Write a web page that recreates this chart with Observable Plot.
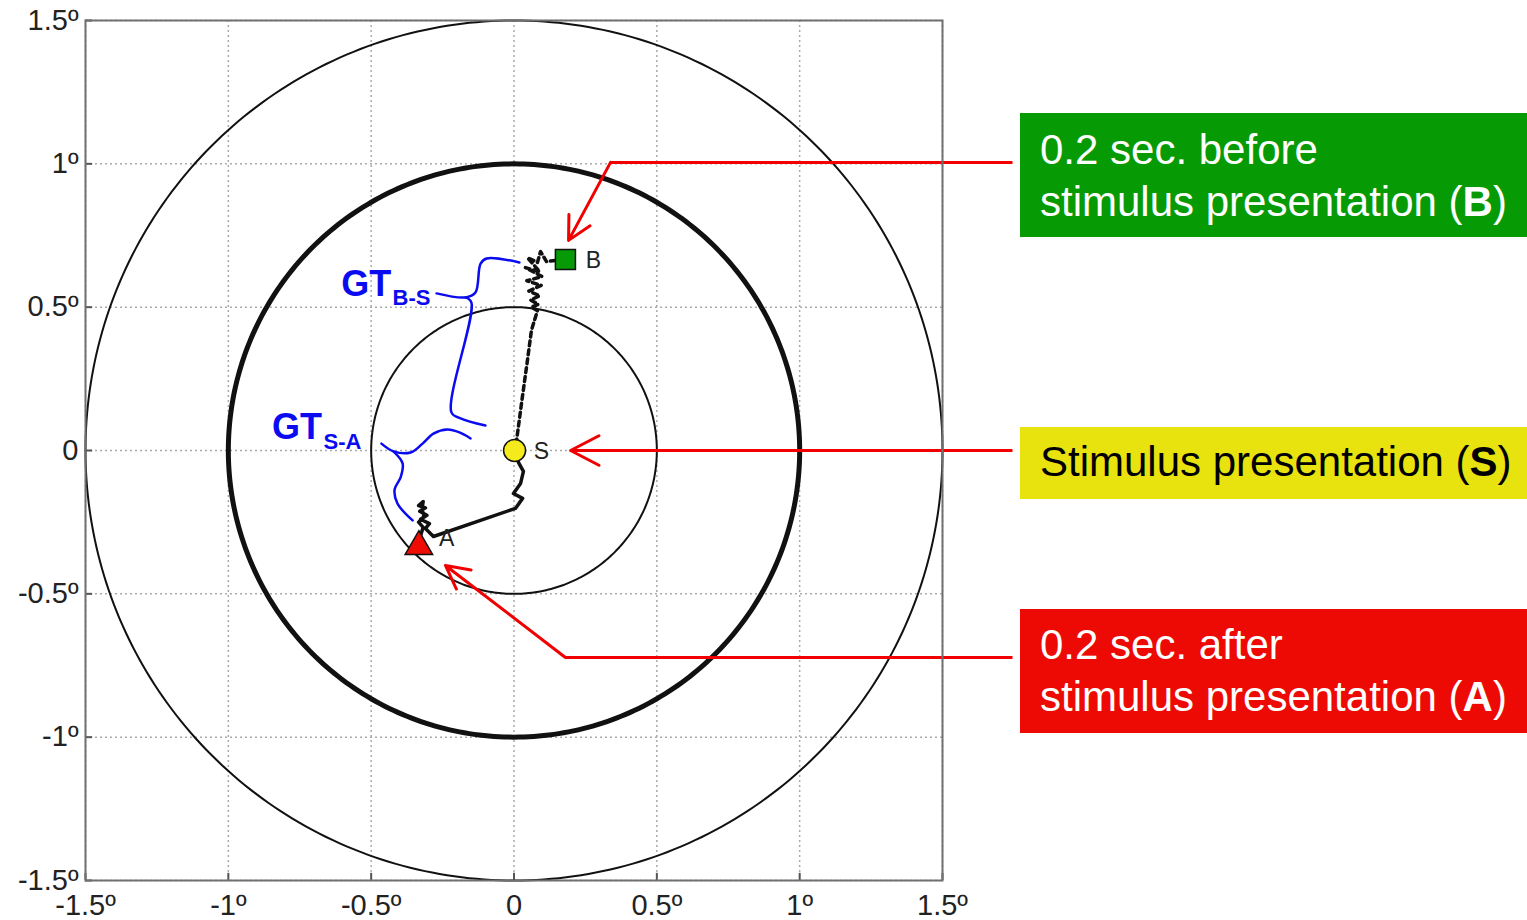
<!DOCTYPE html>
<html><head><meta charset="utf-8">
<script src="https://cdn.jsdelivr.net/npm/d3@7"></script>
<script src="https://cdn.jsdelivr.net/npm/@observablehq/plot@0.6"></script>
<style>
body{margin:0;background:#fff;font-family:"Liberation Sans",Arial,sans-serif;}
#wrap{position:relative;width:1527px;height:920px;overflow:hidden}
#wrap svg{position:absolute;left:0;top:0}
.box{position:absolute;left:1020px;width:507px;box-sizing:border-box;padding-left:20px;font-size:42px;line-height:52px;white-space:nowrap}
</style></head>
<body><div id="wrap"></div>
<script>
// ---- axis ticks ----
const tickValues = [-1.5, -1, -0.5, 0, 0.5, 1, 1.5];
const tickLabel = d => d === 0 ? "0" : `${d}º`;

// ---- reference circles (radius in degrees) ----
const circleRadii = [0.5, 1, 1.5];
const circleWidths = [2, 5, 2];

// ---- event markers ----
const markerNames = ["B", "S", "A"];
const markerX = [0.180, 0.002, -0.333];
const markerY = [0.666, 0.000, -0.335];
const markerSymbols = ["square", "circle", "triangle"];
const markerFills = ["#079a07", "#f4ea1c", "#ee0c04"];
const markerSizes = [11.3, 11, 10.2];
const labelX = [0.278, 0.096, -0.236];
const labelY = [0.663, -0.003, -0.307];

// ---- gaze trace before stimulus (B -> S), dotted ----
const traceBX = [0.145, 0.114, 0.093, 0.082, 0.047, 0.090, 0.040, 0.098, 0.045, 0.095, 0.052, 0.090, 0.058, 0.085, 0.061, 0.082, 0.061, 0.047, 0.030, 0.009, 0.000];
const traceBY = [0.663, 0.659, 0.694, 0.656, 0.673, 0.624, 0.638, 0.607, 0.592, 0.576, 0.556, 0.540, 0.525, 0.510, 0.500, 0.488, 0.419, 0.314, 0.192, 0.035, 0.000];

// ---- gaze trace after stimulus (S -> A), solid ----
const traceAX = [0.000, 0.016, 0.033, 0.023, -0.002, 0.030, 0.005, -0.282, -0.310, -0.296, -0.327, -0.305, -0.330, -0.310, -0.334, -0.318, -0.322, -0.315, -0.334, -0.318, -0.327, -0.334];
const traceAY = [0.000, -0.042, -0.073, -0.115, -0.150, -0.167, -0.202, -0.300, -0.272, -0.255, -0.240, -0.226, -0.212, -0.200, -0.192, -0.178, -0.205, -0.230, -0.250, -0.268, -0.297, -0.317];

// ---- blue braces (GT annotations) ----
const braceIds = ["BS1","BS1","BS1","BS1","BS1","BS1","BS2","BS2","BS2","BS2","BS2",
                  "SA1","SA1","SA1","SA1","SA1","SA1","SA1","SA1","SA2","SA2","SA2","SA2","SA2","SA2"];
const braceX = [0.019, -0.096, -0.117, -0.135, -0.170, -0.271, -0.170, -0.149, -0.219, -0.187, -0.100,
                -0.464, -0.422, -0.362, -0.320, -0.282, -0.233, -0.191, -0.152, -0.422, -0.390, -0.397, -0.418, -0.408, -0.355];
const braceY = [0.656, 0.670, 0.652, 0.551, 0.534, 0.548, 0.534, 0.516, 0.133, 0.112, 0.087,
                0.024, -0.003, -0.007, 0.024, 0.059, 0.073, 0.063, 0.042, -0.003, -0.045, -0.094, -0.136, -0.185, -0.244];
const gtMain = ["GT", "GT"];
const gtSub = ["B-S", "S-A"];
const gtMainX = [-0.430, -0.672];
const gtMainY = [0.579, 0.080];
const gtSubX = [-0.425, -0.667];
const gtSubY = [0.531, 0.029];

// ---- red callout arrows (horizontal leader + arrow) ----
const calloutNames = ["B", "S", "A"];
const leaderX1 = [1.745, 1.745, 1.745];
const leaderY1 = [1.005, 0.000, -0.722];
const leaderX2 = [0.338, 1.000, 0.180];
const leaderY2 = [1.005, 0.000, -0.722];
const arrowX1 = [0.338, 1.000, 0.180];
const arrowY1 = [1.005, 0.000, -0.722];
const arrowX2 = [0.191, 0.198, -0.240];
const arrowY2 = [0.733, 0.000, -0.401];
const arrowHeads = [13, 16, 13];

// ---- callout boxes ----
const boxTexts = [
  ["0.2 sec. before", "stimulus presentation (<b>B</b>)"],
  ["Stimulus presentation (<b>S</b>)"],
  ["0.2 sec. after", "stimulus presentation (<b>A</b>)"]
];
const boxColors = ["#069a05", "#e8e20e", "#ee0a04"];
const boxTextColors = ["#ffffff", "#000000", "#ffffff"];
const boxTops = [113, 427, 609];
const boxHeights = [124, 72, 124];
const boxPads = [11, 9, 10];

// ---- build tables ----
const circles = circleRadii.map(r => d3.range(0, 361, 1).map(a => ({r, x: r * Math.cos(a * Math.PI / 180), y: r * Math.sin(a * Math.PI / 180)})));
const markers = markerNames.map((n, i) => ({n, x: markerX[i], y: markerY[i], s: markerSymbols[i], f: markerFills[i], r: markerSizes[i], lx: labelX[i], ly: labelY[i]}));
const traceB = traceBX.map((x, i) => ({x, y: traceBY[i]}));
const traceA = traceAX.map((x, i) => ({x, y: traceAY[i]}));
const braces = braceX.map((x, i) => ({id: braceIds[i], x, y: braceY[i]}));
const gts = gtMain.map((t, i) => ({t, s: gtSub[i], mx: gtMainX[i], my: gtMainY[i], sx: gtSubX[i], sy: gtSubY[i]}));
const callouts = calloutNames.map((n, i) => ({n, lx1: leaderX1[i], ly1: leaderY1[i], lx2: leaderX2[i], ly2: leaderY2[i],
  ax1: arrowX1[i], ay1: arrowY1[i], ax2: arrowX2[i], ay2: arrowY2[i], h: arrowHeads[i]}));

const font = "Liberation Sans, Arial, sans-serif";
const chart = Plot.plot({
  width: 1527, height: 920,
  marginLeft: 85, marginRight: 585, marginTop: 20, marginBottom: 40,
  style: {fontFamily: font, fontSize: "29px", color: "#222", background: "transparent", overflow: "visible"},
  x: {domain: [-1.5, 1.5]},
  y: {domain: [-1.5, 1.5]},
  marks: [
    Plot.gridX(tickValues, {stroke: "#aaaaaa", strokeOpacity: 1, strokeDasharray: "2,3", strokeWidth: 1.5}),
    Plot.gridY(tickValues, {stroke: "#aaaaaa", strokeOpacity: 1, strokeDasharray: "2,3", strokeWidth: 1.5}),
    Plot.ruleX(tickValues, {x: d => d, y1: -1.5, y2: -1.475, stroke: "#555", strokeWidth: 2}),
    Plot.ruleY(tickValues, {y: d => d, x1: -1.5, x2: -1.475, stroke: "#555", strokeWidth: 2}),
    ...circles.map((c, i) => Plot.line(c, {x: "x", y: "y", stroke: "#111", strokeWidth: circleWidths[i]})),
    Plot.axisX(tickValues, {tickFormat: tickLabel, tickSize: 0, tickPadding: 14, fontSize: 29, fill: "#222"}),
    Plot.axisY(tickValues, {tickFormat: tickLabel, tickSize: 0, tickPadding: 7, fontSize: 29, fill: "#222"}),
    Plot.line(braces, {x: "x", y: "y", z: "id", stroke: "#0b0bf0", strokeWidth: 2.5, curve: "catmull-rom"}),
    Plot.text(gts, {x: "mx", y: "my", text: "t", textAnchor: "end", fontSize: 36, fontWeight: "bold", fill: "#0b0bf0"}),
    Plot.text(gts, {x: "sx", y: "sy", text: "s", textAnchor: "start", fontSize: 22, fontWeight: "bold", fill: "#0b0bf0"}),
    Plot.line(traceB, {x: "x", y: "y", stroke: "#111", strokeWidth: 3.5, strokeDasharray: "5,4"}),
    Plot.line(traceA, {x: "x", y: "y", stroke: "#111", strokeWidth: 3.5, strokeLinejoin: "round"}),
    Plot.dot(markers, {x: "x", y: "y", symbol: "s", fill: "f", r: "r", stroke: "#111", strokeWidth: 1.5}),
    Plot.text(markers, {x: "lx", y: "ly", text: "n", fontSize: 23, fill: "#222"}),
    Plot.link(callouts, {x1: "lx1", y1: "ly1", x2: "lx2", y2: "ly2", stroke: "#f20000", strokeWidth: 3}),
    ...callouts.map(c => Plot.arrow([c], {x1: "ax1", y1: "ay1", x2: "ax2", y2: "ay2", stroke: "#f20000", strokeWidth: 3, headLength: c.h, headAngle: 55})),
    Plot.frame({stroke: "#707070", strokeWidth: 2})
  ],
  r: {type: "identity"},
  symbol: {type: "identity"},
  color: {type: "identity"}
});

const wrap = document.getElementById("wrap");
wrap.appendChild(chart);
boxTexts.forEach((lines, i) => {
  const div = document.createElement("div");
  div.className = "box";
  div.style.top = boxTops[i] + "px";
  div.style.height = boxHeights[i] + "px";
  div.style.paddingTop = boxPads[i] + "px";
  div.style.background = boxColors[i];
  div.style.color = boxTextColors[i];
  div.innerHTML = lines.join("<br>");
  wrap.appendChild(div);
});
</script>
</body></html>
